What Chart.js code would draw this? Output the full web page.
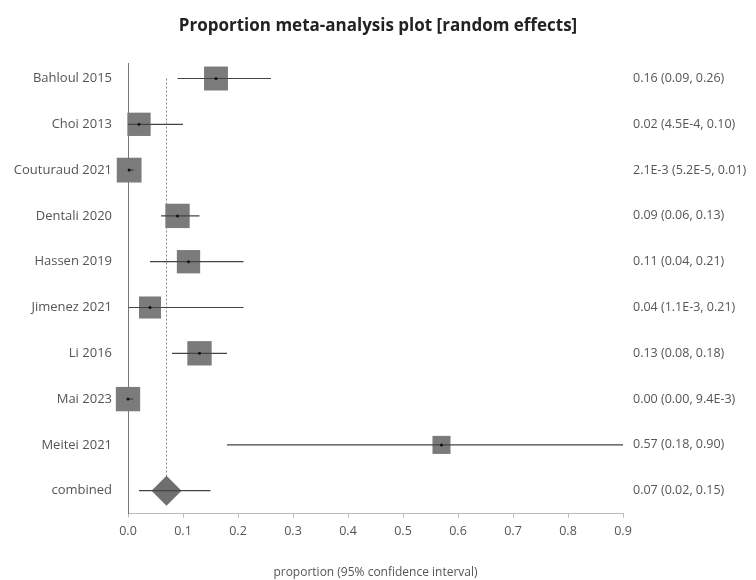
<!DOCTYPE html>
<html>
<head>
<meta charset="utf-8">
<script src="https://cdn.jsdelivr.net/npm/chart.js@4.4.1/dist/chart.umd.min.js"></script>
<style>
  body { margin: 0; background: #fff; }
</style>
</head>
<body>
<canvas id="forest" width="756" height="580"></canvas>
<script>
// study rows, top to bottom
const studies = ['Bahloul 2015', 'Choi 2013', 'Couturaud 2021', 'Dentali 2020', 'Hassen 2019',
                 'Jimenez 2021', 'Li 2016', 'Mai 2023', 'Meitei 2021'];
const estimates = [0.16, 0.02, 0.0021, 0.09, 0.11, 0.04, 0.13, 0.00, 0.57];
const lowerCI = [0.09, 0.00045, 0.000052, 0.06, 0.04, 0.0011, 0.08, 0.00, 0.18];
const upperCI = [0.26, 0.10, 0.01, 0.13, 0.21, 0.21, 0.18, 0.0094, 0.90];
// relative weights (%)
const weights = [11.4, 11.1, 11.8, 11.6, 11.1, 10.5, 11.6, 11.6, 8.6];

const combinedLabel = 'combined';
const combined = { est: 0.07, lo: 0.02, hi: 0.15 };

const xTicks = [0, 0.1, 0.2, 0.3, 0.4, 0.5, 0.6, 0.7, 0.8, 0.9];

const rowLabels = studies.concat([combinedLabel]);
const combinedRow = studies.length;

function fmt(v) {
    if (v > 0 && v < 0.01) return v.toExponential(1).replace('e', 'E');
    return v.toFixed(2);
}
const summaries = studies.map((s, i) => fmt(estimates[i]) + ' (' + fmt(lowerCI[i]) + ', ' + fmt(upperCI[i]) + ')');
summaries.push(fmt(combined.est) + ' (' + fmt(combined.lo) + ', ' + fmt(combined.hi) + ')');

// CI whiskers as one broken line
const ciPoints = [];
studies.forEach((s, i) => {
    ciPoints.push({ x: lowerCI[i], y: i }, { x: upperCI[i], y: i }, { x: null, y: null });
});
ciPoints.push({ x: combined.lo, y: combinedRow }, { x: combined.hi, y: combinedRow });

const FONT = '"Open Sans", "DejaVu Sans", sans-serif';
const TEXT = '#555';

const rowTicks = (scale) => { scale.ticks = rowLabels.map((l, i) => ({ value: i })); };

new Chart(document.getElementById('forest').getContext('2d'), {
    type: 'scatter',
    data: {
        datasets: [
            {   // center dots
                data: studies.map((s, i) => ({ x: estimates[i], y: i })),
                pointRadius: 1.5,
                pointBackgroundColor: '#111',
                pointBorderWidth: 0,
                clip: false,
                order: 0
            },
            {
                type: 'line',
                data: ciPoints,
                borderColor: '#444',
                borderWidth: 1.2,
                pointRadius: 0,
                spanGaps: false,
                order: 1
            },
            {   // study boxes
                data: studies.map((s, i) => ({ x: estimates[i], y: i })),
                pointStyle: 'rect',
                pointRadius: weights.map(w => (w * 2.1) / 2 / Math.SQRT1_2),
                pointBackgroundColor: '#7b7b7b',
                pointBorderWidth: 0,
                clip: false,
                order: 2
            },
            {   // pooled diamond
                data: [{ x: combined.est, y: combinedRow }],
                pointStyle: 'rectRot',
                pointRadius: 15,
                pointBackgroundColor: '#6f6f6f',
                pointBorderWidth: 0,
                clip: false,
                order: 3
            },
            {   // pooled estimate reference line
                type: 'line',
                data: [{ x: combined.est, y: 0 }, { x: combined.est, y: combinedRow }],
                borderColor: '#888',
                borderWidth: 1,
                borderDash: [2, 2],
                pointRadius: 0,
                order: 4
            }
        ]
    },
    options: {
        responsive: false,
        animation: false,
        layout: { padding: 0 },
        plugins: {
            legend: { display: false },
            tooltip: { enabled: false },
            title: {
                display: true,
                text: 'Proportion meta-analysis plot [random effects]',
                color: '#222',
                font: { family: FONT, size: 17, weight: 'bold' },
                padding: { top: 16, bottom: 27 }
            }
        },
        scales: {
            x: {
                type: 'linear',
                min: 0,
                max: 0.9,
                afterBuildTicks: (scale) => { scale.ticks = xTicks.map(v => ({ value: v })); },
                ticks: {
                    color: TEXT,
                    font: { family: FONT, size: 12.5 },
                    padding: 6,
                    callback: (v) => v.toFixed(1)
                },
                grid: { drawOnChartArea: false, tickLength: 4, color: '#bbb' },
                border: { color: '#bbb' },
                title: {
                    display: true,
                    text: 'proportion (95% confidence interval)',
                    color: TEXT,
                    font: { family: FONT, size: 12 },
                    padding: { top: 21, bottom: 0 }
                }
            },
            y: {
                type: 'linear',
                position: 'left',
                reverse: true,
                min: -0.33,
                max: 9.5,
                afterBuildTicks: rowTicks,
                afterFit: (scale) => { scale.width = 128; },
                ticks: {
                    autoSkip: false,
                    color: TEXT,
                    padding: 16,
                    font: { family: FONT, size: 13 },
                    callback: (v) => rowLabels[v]
                },
                grid: { display: false, drawTicks: false },
                border: { color: '#777', width: 1 }
            },
            y2: {
                type: 'linear',
                position: 'right',
                reverse: true,
                min: -0.33,
                max: 9.5,
                afterBuildTicks: rowTicks,
                afterFit: (scale) => { scale.width = 133; },
                ticks: {
                    autoSkip: false,
                    color: TEXT,
                    padding: 10,
                    font: { family: FONT, size: 12.5 },
                    callback: (v) => summaries[v]
                },
                grid: { display: false, drawTicks: false },
                border: { display: false }
            }
        }
    }
});
</script>
</body>
</html>
